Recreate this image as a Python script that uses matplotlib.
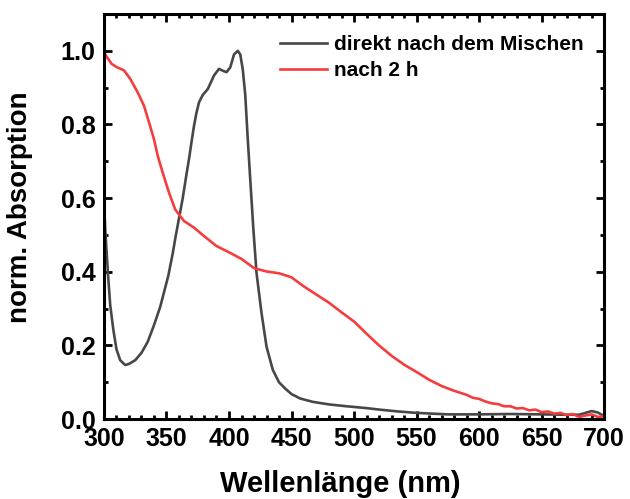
import matplotlib.pyplot as plt
from matplotlib.ticker import MultipleLocator

plt.rcParams['font.family'] = ['Liberation Sans', 'DejaVu Sans']
plt.rcParams['font.weight'] = 'bold'

# directly after mixing
wl_direkt = [300, 301, 303.5, 305, 307.5, 310, 313, 317, 320, 325, 330, 335, 340,
             345, 351.5, 355, 357, 360, 363, 366, 368, 370, 372, 374, 376, 379, 383,
             388, 392, 395, 398, 401, 404, 407, 409, 411, 413, 415, 417, 419.5, 422,
             426, 430, 435, 440, 445, 450, 457, 467, 480, 494, 510, 520, 535, 550,
             575, 600, 625, 650, 670, 680, 686, 690, 695, 700]
abs_direkt = [0.60, 0.515, 0.38, 0.31, 0.243, 0.19, 0.16, 0.147, 0.15, 0.16, 0.18,
              0.21, 0.255, 0.305, 0.39, 0.45, 0.49, 0.545, 0.60, 0.665, 0.706, 0.752,
              0.796, 0.832, 0.86, 0.88, 0.896, 0.933, 0.951, 0.946, 0.942, 0.955,
              0.99, 1.0, 0.99, 0.95, 0.88, 0.76, 0.65, 0.515, 0.397, 0.288, 0.197,
              0.134, 0.10, 0.083, 0.068, 0.056, 0.047, 0.040, 0.035, 0.030, 0.026,
              0.021, 0.017, 0.013, 0.013, 0.014, 0.013, 0.012, 0.012, 0.018, 0.022,
              0.018, 0.008]

# after 2 h
wl_2h = [300, 303, 306, 310, 316, 321, 327, 332, 336, 340, 343, 347, 352, 357, 364,
         372, 380, 390, 400, 410, 420, 430, 440, 450, 460, 470, 480, 490, 500,
         510, 520, 530, 540, 550, 560, 570, 580, 590, 595, 600, 605, 610, 615, 620,
         625, 630, 635, 640, 645, 650, 655, 660, 665, 670, 675, 680, 685, 690, 695, 700]
abs_2h = [0.995, 0.98, 0.965, 0.956, 0.947, 0.924, 0.887, 0.851, 0.806, 0.76, 0.715,
          0.669, 0.615, 0.569, 0.538, 0.52, 0.497, 0.47, 0.453, 0.435, 0.41,
          0.401, 0.396, 0.385, 0.36, 0.338, 0.316, 0.29, 0.265, 0.232, 0.20, 0.172,
          0.148, 0.128, 0.107, 0.09, 0.077, 0.066, 0.058, 0.055, 0.048, 0.043, 0.041,
          0.035, 0.035, 0.029, 0.030, 0.024, 0.026, 0.019, 0.021, 0.015, 0.017, 0.011,
          0.014, 0.006, 0.010, 0.013, 0.006, 0.008]

fig = plt.figure(figsize=(6.3, 4.99), dpi=100)
ax = fig.add_axes([0.165, 0.160, 0.794, 0.812])

ax.plot(wl_direkt, abs_direkt, color='#474747', lw=1.9, label='direkt nach dem Mischen')
ax.plot(wl_2h, abs_2h, color='#f53d3d', lw=1.9, label='nach 2 h')

ax.set_xlim(300, 700)
ax.set_ylim(0, 1.10)
ax.xaxis.set_major_locator(MultipleLocator(50))
ax.xaxis.set_minor_locator(MultipleLocator(10))
ax.yaxis.set_major_locator(MultipleLocator(0.2))
ax.yaxis.set_minor_locator(MultipleLocator(0.1))
ax.yaxis.set_major_formatter(lambda v, p: f'{v:.1f}')

for s in ax.spines.values():
    s.set_linewidth(2.2)
ax.tick_params(which='both', direction='in', top=True, right=True, width=2.0)
ax.tick_params(which='major', length=6, labelsize=18, pad=6)
ax.tick_params(which='minor', length=3)

ax.set_xlabel('Wellenlänge (nm)', fontsize=21, fontweight='bold')
ax.set_ylabel('norm. Absorption', fontsize=20, fontweight='bold')
ax.xaxis.set_label_coords(0.472, -0.125)
ax.yaxis.set_label_coords(-0.142, 0.523)

ax.legend(loc='upper right', frameon=False, fontsize=15, handlelength=2.3,
          handletextpad=0.3, borderaxespad=0.6, labelspacing=0.35)

fig.savefig('out.png', dpi=100)
